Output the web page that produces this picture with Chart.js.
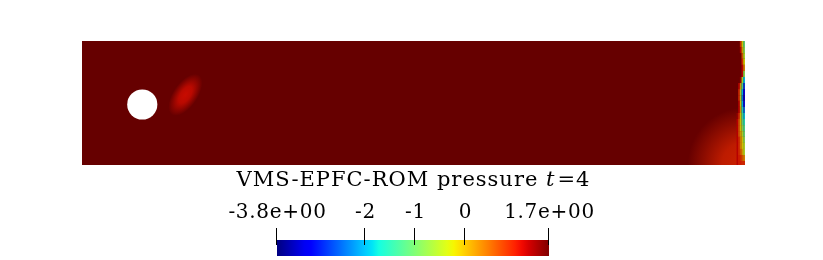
<!DOCTYPE html>
<html>
<head>
<meta charset="utf-8">
<script src="https://cdn.jsdelivr.net/npm/chart.js@4/dist/chart.umd.min.js"></script>
<style>
  html, body { margin: 0; padding: 0; background: #ffffff; }
  #wrap { position: relative; width: 823px; height: 260px; }
  canvas { position: absolute; left: 0; top: 0; }
</style>
</head>
<body>
<div id="wrap">
  <canvas id="field" width="823" height="260"></canvas>
  <canvas id="bar" width="823" height="260"></canvas>
</div>
<script>
// ---------------- data ----------------
const TITLE_MAIN = 'VMS-EPFC-ROM pressure ';
const TITLE_VAR = 't';
const TITLE_TAIL = '=4';

const P_MIN = -3.75;
const P_MAX = 1.67;
const TICK_VALUES = [-3.75, -2, -1, 0, 1.67];
const TICK_LABELS = ['-3.8e+00', '-2', '-1', '0', '1.7e+00'];

const FIELD_X = [0, 2.2];
const FIELD_Y = [0, 0.41];
const BACKGROUND_P = 1.67;

const CYLINDER_X = [0.2];
const CYLINDER_Y = [0.2];
const CYLINDER_R = [0.05];

// soft pressure structures (wake vortex, outlet region)
const BLOB_X = [0.343, 2.2];
const BLOB_Y = [0.232, 0.0];
const BLOB_RX = [0.08, 0.19];
const BLOB_RY = [0.04, 0.19];
const BLOB_ANGLE = [55, 0];
const BLOB_P = [1.1, 0.95];

// outlet boundary strip, cells
const OUTLET_X_EDGES = [2.172, 2.1775, 2.183, 2.1885, 2.194, 2.2];
const OUTLET_Y_EDGES = [0.41, 0.39, 0.37, 0.351, 0.331, 0.311, 0.291, 0.271, 0.251, 0.231, 0.212,
                        0.192, 0.172, 0.152, 0.132, 0.112, 0.093, 0.073, 0.053, 0.033, 0.013, 0.0];
const OUTLET_P = [
  [1.7, 1.7, 0.9, -0.2, -1.1],
  [1.7, 1.7, 1.2, 0.1, -0.8],
  [1.7, 1.7, 1.7, 0.6, -0.5],
  [1.7, 1.7, 1.7, 0.9, -0.2],
  [1.7, 1.7, 1.7, 1.2, 0.3],
  [1.7, 1.7, 1.7, 1.2, -0.8],
  [1.7, 1.7, 1.4, -0.5, -1.9],
  [1.7, 1.2, 0.1, -1.3, -2.7],
  [1.7, 0.9, -0.5, -1.9, -3.1],
  [1.7, 0.9, -0.5, -2.2, -3.3],
  [1.7, 1.2, -0.2, -1.9, -3.0],
  [1.7, 1.2, 0.1, -1.6, -2.4],
  [1.4, 0.9, -0.2, -1.3, -1.9],
  [1.2, 0.6, -0.2, -1.1, -1.6],
  [1.2, 0.6, -0.2, -0.8, -1.3],
  [1.2, 0.6, 0.1, -0.5, -1.1],
  [1.2, 0.9, 0.3, -0.2, -0.8],
  [1.2, 0.9, 0.3, -0.2, -0.5],
  [1.2, 0.9, 0.6, 0.1, -0.5],
  [1.2, 1.0, 0.9, 0.6, 0.3],
  [1.2, 1.0, 1.0, 0.9, 0.9]
];

// ---------------- colour map (jet) ----------------
const SHADE = 0.8;
function interp(pts, t) {
  if (t <= pts[0][0]) return pts[0][1];
  for (let i = 1; i < pts.length; i++) {
    if (t <= pts[i][0]) {
      const a = pts[i - 1], b = pts[i];
      return a[1] + (b[1] - a[1]) * (t - a[0]) / (b[0] - a[0]);
    }
  }
  return pts[pts.length - 1][1];
}
const JR = [[0, 0], [0.35, 0], [0.66, 1], [0.89, 1], [1, 0.5]];
const JG = [[0, 0], [0.125, 0], [0.375, 1], [0.64, 1], [0.91, 0], [1, 0]];
const JB = [[0, 0.5], [0.11, 1], [0.34, 1], [0.65, 0], [1, 0]];
function jet(t) { t = Math.max(0, Math.min(1, t)); return [interp(JR, t), interp(JG, t), interp(JB, t)]; }
function pColor(p, shade, alpha) {
  const c = jet((p - P_MIN) / (P_MAX - P_MIN));
  const s = shade == null ? 1 : shade;
  const a = alpha == null ? 1 : alpha;
  return 'rgba(' + Math.round(c[0] * 255 * s) + ',' + Math.round(c[1] * 255 * s) + ',' + Math.round(c[2] * 255 * s) + ',' + a + ')';
}

const SERIF = "'DejaVu Serif', 'Liberation Serif', serif";

// ---------------- field chart ----------------
const fieldPlugin = {
  id: 'fieldPlugin',
  beforeDatasetsDraw(chart) {
    const ctx = chart.ctx, xs = chart.scales.x, ys = chart.scales.y;
    const x0 = xs.getPixelForValue(FIELD_X[0]), x1 = xs.getPixelForValue(FIELD_X[1]);
    const y0 = ys.getPixelForValue(FIELD_Y[1]), y1 = ys.getPixelForValue(FIELD_Y[0]);
    ctx.save();
    ctx.fillStyle = pColor(BACKGROUND_P, SHADE);
    ctx.fillRect(x0, y0, x1 - x0, y1 - y0);
    ctx.beginPath();
    ctx.rect(x0, y0, x1 - x0, y1 - y0);
    ctx.clip();
    for (let i = 0; i < BLOB_X.length; i++) {
      const cx = xs.getPixelForValue(BLOB_X[i]), cy = ys.getPixelForValue(BLOB_Y[i]);
      const rx = xs.getPixelForValue(BLOB_X[i] + BLOB_RX[i]) - cx;
      const ry = cy - ys.getPixelForValue(BLOB_Y[i] + BLOB_RY[i]);
      ctx.save();
      ctx.translate(cx, cy);
      ctx.rotate(-BLOB_ANGLE[i] * Math.PI / 180);
      ctx.scale(1, ry / rx);
      const g = ctx.createRadialGradient(0, 0, 0, 0, 0, rx);
      g.addColorStop(0, pColor(BLOB_P[i], SHADE, 1));
      g.addColorStop(0.4, pColor(BLOB_P[i], SHADE, 0.85));
      g.addColorStop(0.75, pColor(BLOB_P[i], SHADE, 0.35));
      g.addColorStop(1, pColor(BLOB_P[i], SHADE, 0));
      ctx.fillStyle = g;
      ctx.beginPath();
      ctx.arc(0, 0, rx, 0, Math.PI * 2);
      ctx.fill();
      ctx.restore();
    }
    for (let r = 0; r < OUTLET_P.length; r++) {
      const top = ys.getPixelForValue(OUTLET_Y_EDGES[r]);
      const bot = ys.getPixelForValue(OUTLET_Y_EDGES[r + 1]);
      for (let c = 0; c < OUTLET_P[r].length; c++) {
        const p = OUTLET_P[r][c];
        if (p >= BACKGROUND_P) continue;
        const l = xs.getPixelForValue(OUTLET_X_EDGES[c]);
        const rr = xs.getPixelForValue(OUTLET_X_EDGES[c + 1]);
        ctx.fillStyle = pColor(p, SHADE);
        ctx.fillRect(l, top, rr - l, bot - top);
      }
    }
    ctx.restore();
  },
  afterDatasetsDraw(chart) {
    const ctx = chart.ctx, xs = chart.scales.x, ys = chart.scales.y;
    ctx.save();
    ctx.fillStyle = '#ffffff';
    for (let i = 0; i < CYLINDER_X.length; i++) {
      const cx = xs.getPixelForValue(CYLINDER_X[i]);
      const cy = ys.getPixelForValue(CYLINDER_Y[i]);
      const r = xs.getPixelForValue(CYLINDER_X[i] + CYLINDER_R[i]) - cx;
      ctx.beginPath();
      ctx.arc(cx, cy, r, 0, Math.PI * 2);
      ctx.fill();
    }
    ctx.restore();
  }
};

new Chart(document.getElementById('field'), {
  type: 'scatter',
  data: {
    datasets: [{
      data: CYLINDER_X.map((x, i) => ({ x: x, y: CYLINDER_Y[i] })),
      pointRadius: 0,
      pointHoverRadius: 0
    }]
  },
  options: {
    responsive: false,
    animation: false,
    events: [],
    layout: { padding: { left: 82, right: 78, top: 41, bottom: 95 } },
    scales: {
      x: { type: 'linear', min: FIELD_X[0], max: FIELD_X[1], display: false },
      y: { type: 'linear', min: FIELD_Y[0], max: FIELD_Y[1], display: false }
    },
    plugins: { legend: { display: false }, tooltip: { enabled: false } }
  },
  plugins: [fieldPlugin]
});

// ---------------- colour bar chart ----------------
const barPlugin = {
  id: 'barPlugin',
  afterDatasetsDraw(chart) {
    const ctx = chart.ctx, xs = chart.scales.x, area = chart.chartArea;
    ctx.save();
    ctx.strokeStyle = '#000000';
    ctx.lineWidth = 1;
    ctx.fillStyle = '#000000';
    ctx.textAlign = 'center';
    ctx.textBaseline = 'alphabetic';
    ctx.font = '20px ' + SERIF;
    ctx.letterSpacing = '0.7px';
    TICK_VALUES.forEach((v, i) => {
      const px = Math.round(xs.getPixelForValue(v)) - 0.5;
      ctx.beginPath();
      ctx.moveTo(px, area.top - 12);
      ctx.lineTo(px, area.top + 5);
      ctx.stroke();
      ctx.fillText(TICK_LABELS[i], px + 1, 218);
    });
    ctx.letterSpacing = '1px';
    ctx.textAlign = 'left';
    const fN = '21px ' + SERIF, fI = 'italic 21px ' + SERIF;
    ctx.font = fN; const w1 = ctx.measureText(TITLE_MAIN).width; const w3 = ctx.measureText(TITLE_TAIL).width;
    ctx.font = fI; const w2 = ctx.measureText(TITLE_VAR).width;
    const total = w1 + w2 + w3;
    let x = 412.5 - total / 2; const y = 186;
    ctx.font = fN; ctx.fillText(TITLE_MAIN, x, y); x += w1;
    ctx.font = fI; ctx.fillText(TITLE_VAR, x, y); x += w2 + 2;
    ctx.font = fN; ctx.fillText(TITLE_TAIL, x, y);
    ctx.restore();
  }
};

new Chart(document.getElementById('bar'), {
  type: 'bar',
  data: {
    labels: ['pressure'],
    datasets: [{
      data: [[P_MIN, P_MAX]],
      borderWidth: 0,
      barPercentage: 1,
      categoryPercentage: 1,
      backgroundColor: (c) => {
        const area = c.chart.chartArea;
        if (!area) return '#888';
        const g = c.chart.ctx.createLinearGradient(area.left, 0, area.right, 0);
        for (let i = 0; i <= 40; i++) {
          const t = i / 40;
          g.addColorStop(t, pColor(P_MIN + t * (P_MAX - P_MIN), 1));
        }
        return g;
      }
    }]
  },
  options: {
    indexAxis: 'y',
    responsive: false,
    animation: false,
    events: [],
    layout: { padding: { left: 277, right: 274, top: 240, bottom: 4 } },
    scales: {
      x: { type: 'linear', min: P_MIN, max: P_MAX, display: false },
      y: { display: false }
    },
    plugins: { legend: { display: false }, tooltip: { enabled: false } }
  },
  plugins: [barPlugin]
});
</script>
</body>
</html>
